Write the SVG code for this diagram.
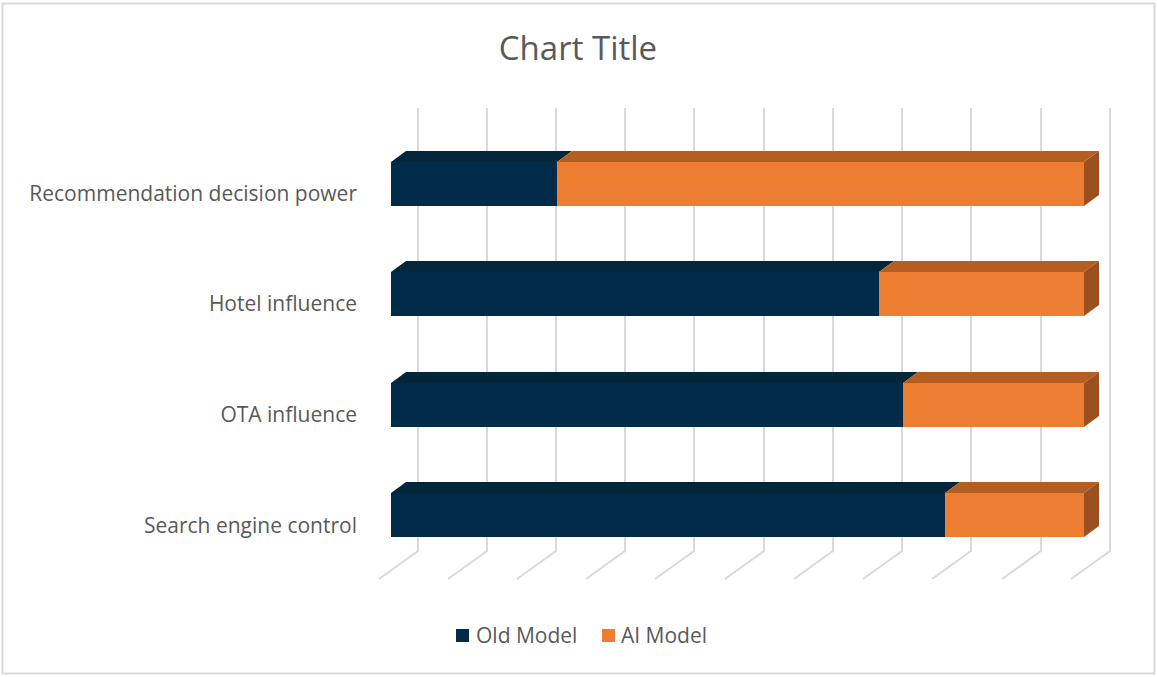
<svg xmlns="http://www.w3.org/2000/svg" width="1157" height="677" viewBox="0 0 1157 677">
<style>
.grid{stroke:#D9D9D9;stroke-width:2;fill:none}
.lbl{font-family:"Open Sans","Liberation Sans",sans-serif;font-size:21px;fill:#595959;text-anchor:end}
.leg{font-family:"Open Sans","Liberation Sans",sans-serif;font-size:21px;fill:#595959}
.title{font-family:"Open Sans","Liberation Sans",sans-serif;font-size:33px;fill:#595959;text-anchor:middle}
.oldF{fill:#002B49}
.oldT{fill:#04263A}
.aiF{fill:#ED7D31}
.aiT{fill:#B55E22}
.aiS{fill:#9C5020}
</style>
<rect x="0" y="0" width="1157" height="677" fill="#FFFFFF"/>
<rect x="2.5" y="3.5" width="1152" height="670" fill="#FFFFFF" stroke="#D9D9D9" stroke-width="2"/>
<text class="title" x="578" y="60">Chart Title</text>
<g id="gridlines">
<path class="grid" d="M418,108V551L379,579M487,108V551L448,579M556,108V551L517,579M625,108V551L586,579M694,108V551L655,579M764,108V551L725,579M833,108V551L794,579M902,108V551L863,579M971,108V551L932,579M1041,108V551L1002,579M1110,108V551L1071,579"/>
</g>
<g id="bar-recommendation">
<polygon class="oldT" points="391,162 406,151 572,151 557,162"/>
<rect class="oldF" x="391" y="162" width="166" height="44"/>
<polygon class="aiT" points="557,162 572,151 1099,151 1084,162"/>
<polygon class="aiS" points="1084,162 1099,151 1099,195 1084,206"/>
<rect class="aiF" x="557" y="162" width="527" height="44"/>
<text class="lbl" x="357" y="201">Recommendation decision power</text>
</g>
<g id="bar-hotel">
<polygon class="oldT" points="391,272 406,261 894,261 879,272"/>
<rect class="oldF" x="391" y="272" width="488" height="44"/>
<polygon class="aiT" points="879,272 894,261 1099,261 1084,272"/>
<polygon class="aiS" points="1084,272 1099,261 1099,305 1084,316"/>
<rect class="aiF" x="879" y="272" width="205" height="44"/>
<text class="lbl" x="357" y="311">Hotel influence</text>
</g>
<g id="bar-ota">
<polygon class="oldT" points="391,383 406,372 918,372 903,383"/>
<rect class="oldF" x="391" y="383" width="512" height="44"/>
<polygon class="aiT" points="903,383 918,372 1099,372 1084,383"/>
<polygon class="aiS" points="1084,383 1099,372 1099,416 1084,427"/>
<rect class="aiF" x="903" y="383" width="181" height="44"/>
<text class="lbl" x="357" y="422">OTA influence</text>
</g>
<g id="bar-search">
<polygon class="oldT" points="391,493 406,482 960,482 945,493"/>
<rect class="oldF" x="391" y="493" width="554" height="44"/>
<polygon class="aiT" points="945,493 960,482 1099,482 1084,493"/>
<polygon class="aiS" points="1084,493 1099,482 1099,526 1084,537"/>
<rect class="aiF" x="945" y="493" width="139" height="44"/>
<text class="lbl" x="357" y="533">Search engine control</text>
</g>
<g id="legend">
<rect class="oldF" x="456" y="629" width="13" height="13"/>
<text class="leg" x="476" y="643">Old Model</text>
<rect class="aiF" x="602" y="629" width="13" height="13"/>
<text class="leg" x="621" y="643">AI Model</text>
</g>
</svg>
